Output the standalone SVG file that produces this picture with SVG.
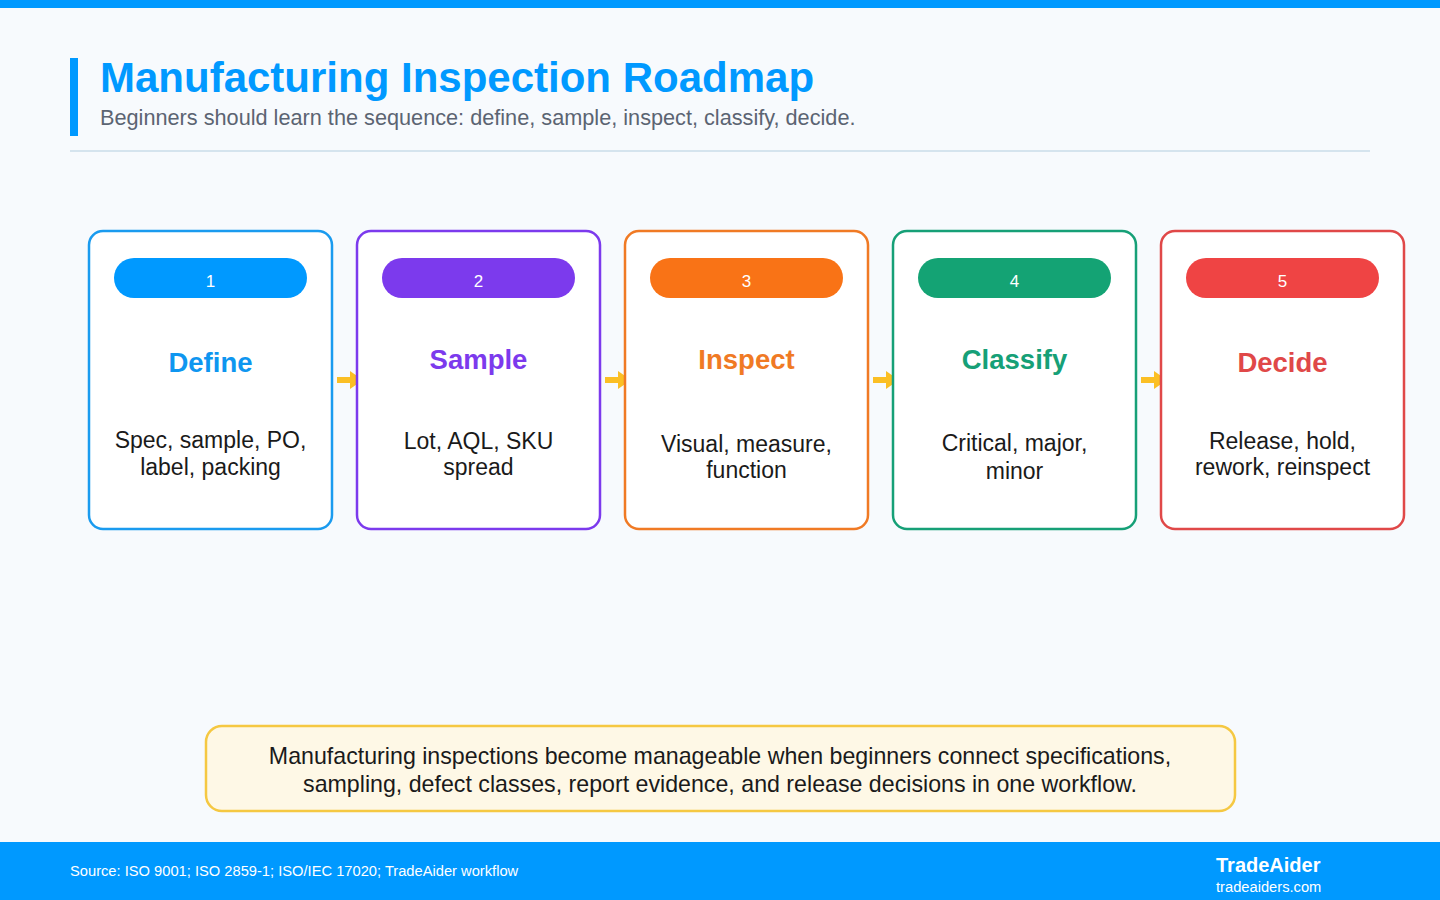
<svg xmlns="http://www.w3.org/2000/svg" width="1440" height="900" viewBox="0 0 1440 900">
<defs>
<style>
.card{fill:#FFFFFF;stroke-width:2.5}
.pill-num{font-family:"Liberation Sans",Arial,sans-serif;font-size:17px;fill:#FFFFFF;text-anchor:middle}
.ttl{font-family:"Liberation Sans",Arial,sans-serif;font-size:27.5px;font-weight:bold;text-anchor:middle}
.body{font-family:"Liberation Sans",Arial,sans-serif;font-size:23px;fill:#1A1A1A;text-anchor:middle}
.note{font-family:"Liberation Sans",Arial,sans-serif;font-size:23.2px;fill:#1A1A1A;text-anchor:middle}
.conn{stroke:#FBBF24;stroke-width:6;fill:none}
.head{fill:#FBBF24}
</style>
</defs>
<rect x="0" y="0" width="1440" height="900" fill="#F7FAFD"/>
<rect x="0" y="0" width="1440" height="8" fill="#0099FF"/>
<rect x="70" y="58" width="8" height="78" fill="#0099FF"/>
<text x="100" y="92" font-family="'Liberation Sans',Arial,sans-serif" font-size="42" font-weight="bold" fill="#0099FF">Manufacturing Inspection Roadmap</text>
<text x="100" y="125" font-family="'Liberation Sans',Arial,sans-serif" font-size="21.7" fill="#5B6472">Beginners should learn the sequence: define, sample, inspect, classify, decide.</text>
<rect x="70" y="150" width="1300" height="2" fill="#D5E4EE"/>

<g id="connectors">
<path class="conn" d="M337,380 H351"/>
<path class="head" d="M350,371 L363,380 L350,389 Z"/>
<path class="conn" d="M605,380 H619"/>
<path class="head" d="M618,371 L631,380 L618,389 Z"/>
<path class="conn" d="M873,380 H887"/>
<path class="head" d="M886,371 L899,380 L886,389 Z"/>
<path class="conn" d="M1141,380 H1155"/>
<path class="head" d="M1154,371 L1167,380 L1154,389 Z"/>
</g>

<g id="node-define">
<rect class="card" x="89" y="231" width="243" height="298" rx="14" stroke="#1A9BEF"/>
<rect x="114" y="258" width="193" height="40" rx="20" fill="#0099FF"/>
<text class="pill-num" x="210.5" y="287">1</text>
<text class="ttl" x="210.5" y="372" fill="#0E96F0">Define</text>
<text class="body" x="210.5" y="448">Spec, sample, PO,</text>
<text class="body" x="210.5" y="475">label, packing</text>
</g>

<g id="node-sample">
<rect class="card" x="357" y="231" width="243" height="298" rx="14" stroke="#7C3AED"/>
<rect x="382" y="258" width="193" height="40" rx="20" fill="#7C3AED"/>
<text class="pill-num" x="478.5" y="287">2</text>
<text class="ttl" x="478.5" y="369" fill="#7C3AED">Sample</text>
<text class="body" x="478.5" y="449">Lot, AQL, SKU</text>
<text class="body" x="478.5" y="475">spread</text>
</g>

<g id="node-inspect">
<rect class="card" x="625" y="231" width="243" height="298" rx="14" stroke="#F07A24"/>
<rect x="650" y="258" width="193" height="40" rx="20" fill="#F97316"/>
<text class="pill-num" x="746.5" y="287">3</text>
<text class="ttl" x="746.5" y="369" fill="#F07A24">Inspect</text>
<text class="body" x="746.5" y="452">Visual, measure,</text>
<text class="body" x="746.5" y="478">function</text>
</g>

<g id="node-classify">
<rect class="card" x="893" y="231" width="243" height="298" rx="14" stroke="#16A077"/>
<rect x="918" y="258" width="193" height="40" rx="20" fill="#14A374"/>
<text class="pill-num" x="1014.5" y="287">4</text>
<text class="ttl" x="1014.5" y="369" fill="#16A077">Classify</text>
<text class="body" x="1014.5" y="451">Critical, major,</text>
<text class="body" x="1014.5" y="479">minor</text>
</g>

<g id="node-decide">
<rect class="card" x="1161" y="231" width="243" height="298" rx="14" stroke="#E04848"/>
<rect x="1186" y="258" width="193" height="40" rx="20" fill="#EF4444"/>
<text class="pill-num" x="1282.5" y="287">5</text>
<text class="ttl" x="1282.5" y="372" fill="#E04848">Decide</text>
<text class="body" x="1282.5" y="449">Release, hold,</text>
<text class="body" x="1282.5" y="475">rework, reinspect</text>
</g>

<g id="note">
<rect x="206" y="726" width="1029" height="85" rx="16" fill="#FEF8E6" stroke="#F5C842" stroke-width="2.5"/>
<text class="note" x="720" y="764">Manufacturing inspections become manageable when beginners connect specifications,</text>
<text class="note" x="720" y="792">sampling, defect classes, report evidence, and release decisions in one workflow.</text>
</g>

<g id="footer">
<rect x="0" y="842" width="1440" height="58" fill="#0099FF"/>
<text x="70" y="876" font-family="'Liberation Sans',Arial,sans-serif" font-size="14.7" fill="#FFFFFF">Source: ISO 9001; ISO 2859-1; ISO/IEC 17020; TradeAider workflow</text>
<text x="1216" y="872" font-family="'Liberation Sans',Arial,sans-serif" font-size="20" font-weight="bold" fill="#FFFFFF">TradeAider</text>
<text x="1216" y="892" font-family="'Liberation Sans',Arial,sans-serif" font-size="14.7" fill="#FFFFFF">tradeaiders.com</text>
</g>
</svg>
